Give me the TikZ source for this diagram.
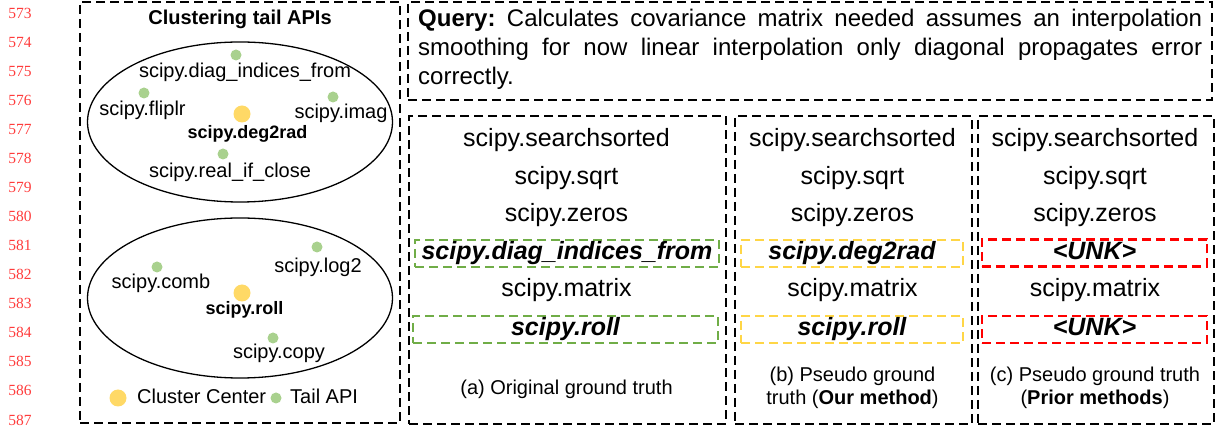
\documentclass[tikz,border=0pt]{standalone}
\usepackage{fontspec}
\setmainfont{Liberation Sans}
\newfontfamily\numfont{Liberation Serif}
\usetikzlibrary{shapes.geometric}
\definecolor{lnred}{RGB}{255,60,60}
\definecolor{hitgreen}{RGB}{112,173,71}
\definecolor{hityellow}{RGB}{255,214,70}
\definecolor{hitred}{RGB}{255,0,0}
\definecolor{dotgreen}{RGB}{169,209,142}
\definecolor{dotyellow}{RGB}{255,217,102}
\frenchspacing
\begin{document}
\begin{tikzpicture}[x=1pt,y=-1pt,
  blackdash/.style={draw=black,line width=2pt,dash pattern=on 9pt off 5pt,inner sep=0pt,anchor=north west},
  lnum/.style={font=\numfont\fontsize{15.5}{17}\selectfont,text=lnred,inner sep=0pt},
  rowtxt/.style={font=\fontsize{25}{30}\selectfont,text height=18pt,text depth=5.25pt,inner sep=0pt},
  hit/.style={rowtxt,font=\fontsize{25}{30}\selectfont\bfseries\itshape,draw=#1,line width=2.5pt,dash pattern=on 9pt off 5pt,minimum height=27pt},
  captxt/.style={font=\fontsize{20}{24}\selectfont,text height=14.4pt,text depth=4.2pt,inner sep=0pt},
  lbl/.style={font=\fontsize{20}{24}\selectfont,text height=14.4pt,text depth=4.2pt,inner sep=0pt},
  blbl/.style={font=\fontsize{18}{22}\selectfont\bfseries,text height=13pt,text depth=3.8pt,inner sep=0pt},
  qtxt/.style={font=\fontsize{24}{29}\selectfont,inner sep=0pt,anchor=base west},
  gdot/.style={circle,fill=dotgreen,inner sep=0pt,minimum size=11pt},
  ydot/.style={circle,fill=dotyellow,inner sep=0pt,minimum size=17pt},
  clus/.style={ellipse,draw=black,line width=1.3pt,minimum width=305pt,minimum height=160pt,inner sep=0pt}
]
\useasboundingbox (0,0) rectangle (1219,427);
% line numbers
\foreach \i in {0,...,14}{
  \pgfmathtruncatemacro\lnv{573+\i}
  \node[lnum] (ln\i) at (20,{13+29.07*\i}) {\lnv};
}
% left box
\node[blackdash,minimum width=320pt,minimum height=421pt] (leftbox) at (79,1) {};
\node[font=\fontsize{20}{24}\selectfont\bfseries,inner sep=0pt,text height=14.4pt,text depth=4.2pt] (ctitle) at (240,19) {Clustering tail APIs};
\node[clus] (e1) at (240,122) {};
\node[clus] (e2) at (240,298) {};
% cluster 1
\node[gdot] (d1) at (236,55) {};
\node[lbl] (l1) at (245,72) {scipy.diag\_indices\_from};
\node[gdot] (d2) at (144,93) {};
\node[lbl] (l2) at (142.5,110) {scipy.fliplr};
\node[gdot] (d3) at (333,97) {};
\node[lbl] (l3) at (341,113) {scipy.imag};
\node[ydot] (c1) at (242,114) {};
\node[blbl] (lc1) at (247.5,134) {scipy.deg2rad};
\node[gdot] (d4) at (223,154) {};
\node[lbl] (l4) at (230,172) {scipy.real\_if\_close};
% cluster 2
\node[gdot] (d5) at (317,247) {};
\node[lbl] (l5) at (318,267) {scipy.log2};
\node[gdot] (d6) at (157,267) {};
\node[lbl] (l6) at (161,283) {scipy.comb};
\node[ydot] (c2) at (242,293) {};
\node[blbl] (lc2) at (244.5,310) {scipy.roll};
\node[gdot] (d7) at (273,338) {};
\node[lbl] (l7) at (279,353) {scipy.copy};
% legend
\node[ydot] (legy) at (118,398) {};
\node[lbl,anchor=west] (legyt) at (137,398) {Cluster Center};
\node[gdot] (legg) at (276,398) {};
\node[lbl,anchor=west] (leggt) at (290,398) {Tail API};
% query box
\node[blackdash,minimum width=804pt,minimum height=98pt] (qbox) at (407,1) {};
\node[qtxt] (q1) at (418,27) {\makebox[784pt][s]{\textbf{Query:} Calculates covariance matrix needed assumes an interpolation}};
\node[qtxt] (q2) at (418,56) {\makebox[784pt][s]{smoothing for now linear interpolation only diagonal propagates error}};
\node[qtxt] (q3) at (418,85) {correctly.};
% panels
\node[blackdash,minimum width=317pt,minimum height=308pt] (pa) at (408,115) {};
\node[blackdash,minimum width=237pt,minimum height=308pt] (pb) at (734,115) {};
\node[blackdash,minimum width=236pt,minimum height=308pt] (pc) at (977,115) {};
% panel a
\node[rowtxt] (a1) at (566.5,140) {scipy.searchsorted};
\node[rowtxt] (a2) at (566.5,178) {scipy.sqrt};
\node[rowtxt] (a3) at (566.5,215) {scipy.zeros};
\node[hit=hitgreen,minimum width=304pt] (a4) at (567,253.5) {scipy.diag\_indices\_from};
\node[rowtxt] (a5) at (566.5,290) {scipy.matrix};
\node[hit=hitgreen,minimum width=305pt] (a6) at (565.5,329.5) {scipy.roll};
\node[captxt] (ca) at (566.5,389) {(a) Original ground truth};
% panel b
\node[rowtxt] (b1) at (852.5,140) {scipy.searchsorted};
\node[rowtxt] (b2) at (852.5,178) {scipy.sqrt};
\node[rowtxt] (b3) at (852.5,215) {scipy.zeros};
\node[hit=hityellow,minimum width=222pt] (b4) at (852,253.5) {scipy.deg2rad};
\node[rowtxt] (b5) at (852.5,290) {scipy.matrix};
\node[hit=hityellow,minimum width=222pt] (b6) at (852,329.5) {scipy.roll};
\node[captxt] (cb1) at (852.5,376) {(b) Pseudo ground};
\node[captxt] (cb2) at (852.5,399) {truth (\textbf{Our method})};
% panel c
\node[rowtxt] (k1) at (1095,140) {scipy.searchsorted};
\node[rowtxt] (k2) at (1095,178) {scipy.sqrt};
\node[rowtxt] (k3) at (1095,215) {scipy.zeros};
\node[hit=hitred,minimum width=225pt] (k4) at (1094.5,253) {<UNK>};
\node[rowtxt] (k5) at (1095,290) {scipy.matrix};
\node[hit=hitred,minimum width=225pt] (k6) at (1094.5,329.5) {<UNK>};
\node[captxt] (cc1) at (1095,376) {(c) Pseudo ground truth};
\node[captxt] (cc2) at (1095,399) {(\textbf{Prior methods})};
\end{tikzpicture}
\end{document}
